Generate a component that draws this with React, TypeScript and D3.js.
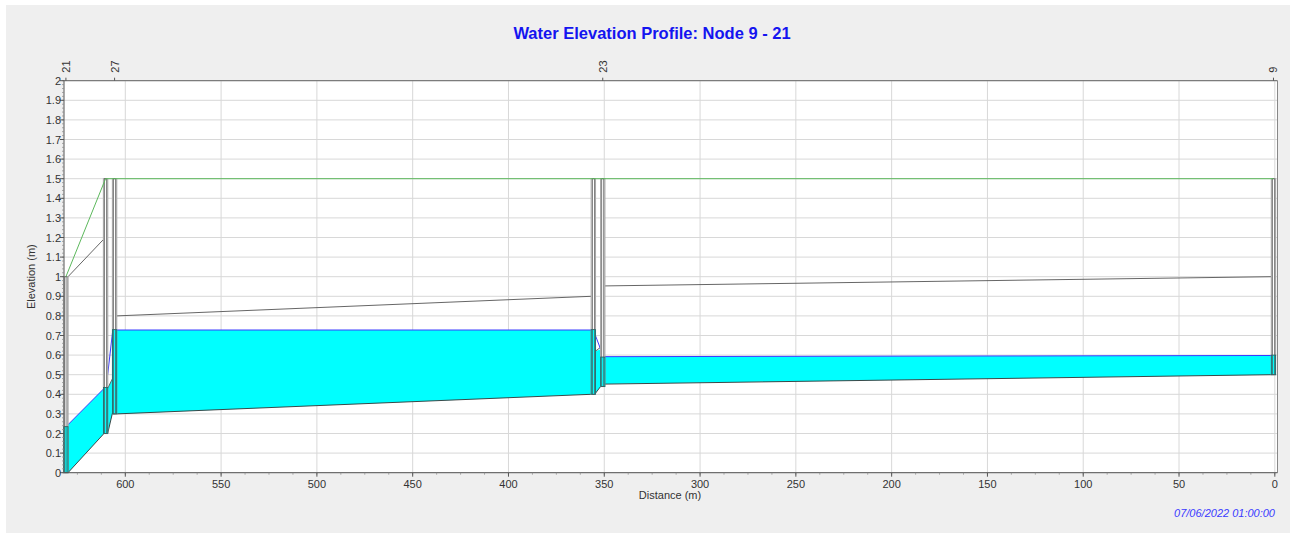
import React from "react";
import * as d3 from "d3";

const title = "Water Elevation Profile: Node 9 - 21";
const timeStamp = "07/06/2022 01:00:00";
const xLabel = "Distance (m)";
const yLabel = "Elevation (m)";

// Nodes (ordered left to right in the chart)
const nodeLabels = ["21", "", "27", "", "23", "9"];
const nodeDistance = [631, 610.3, 605.6, 355.7, 350.8, 0.7];
const nodeInvert = [0.0, 0.2, 0.3, 0.4, 0.44, 0.5];
const nodeRim = [1.0, 1.5, 1.5, 1.5, 1.5, 1.5];
const nodeWater = [0.235, 0.435, 0.73, 0.73, 0.59, 0.6];

// Links between consecutive nodes (start = left end, end = right end)
const linkInvertStart = [0.0, 0.2, 0.3, 0.405, 0.452];
const linkInvertEnd = [0.197, 0.305, 0.4, 0.44, 0.5];
const linkCrownStart = [1.0, 0.43, 0.8, 0.62, 0.953];
const linkCrownEnd = [1.19, 0.48, 0.9, 0.64, 1.0];
const linkWaterStart = [0.245, 0.5, 0.728, 0.7, 0.592];
const linkWaterEnd = [0.427, 0.715, 0.728, 0.63, 0.598];

const xTickValues = [0, 50, 100, 150, 200, 250, 300, 350, 400, 450, 500, 550, 600];
const yTickValues = [0, 0.1, 0.2, 0.3, 0.4, 0.5, 0.6, 0.7, 0.8, 0.9, 1, 1.1, 1.2, 1.3, 1.4, 1.5, 1.6, 1.7, 1.8, 1.9, 2];

const W = 1290;
const H = 534;
const L = 64, R = 1277.5, T = 80.7, B = 472.7;
const FONT = "'Liberation Sans', Arial, sans-serif";

export default function App() {
  const x = d3.scaleLinear().domain([632, -1.4]).range([L, R]);
  const y = d3.scaleLinear().domain([0, 2]).range([B, T]);
  const hw = 2.1; // node half width in px

  const xMinor = d3.range(0, 632, 12.5);
  const yMinor = d3.range(0, 2.0001, 0.02);

  const links = linkInvertStart.map((_, i) => {
    const xl = x(nodeDistance[i]) + hw;
    const xr = x(nodeDistance[i + 1]) - hw;
    const topL = Math.min(linkWaterStart[i], linkCrownStart[i]);
    const topR = Math.min(linkWaterEnd[i], linkCrownEnd[i]);
    const fillPts: [number, number][] = [
      [xl, y(linkInvertStart[i])],
      [xr, y(linkInvertEnd[i])],
      [xr, y(topR)],
      [xl, y(topL)],
    ];
    return { i, xl, xr, fillPts };
  });

  const line = d3.line<[number, number]>();
  const ground: [number, number][] = nodeDistance.map((d, i) => [x(d), y(nodeRim[i])]);

  return (
    <div style={{ position: "absolute", left: 0, top: 0, width: W, height: H, background: "#fff" }}>
      <svg width={W} height={H} style={{ display: "block", fontFamily: FONT }}>
        <rect x={6} y={5} width={W - 6} height={H - 6} fill="#efefef" />
        <text x={652} y={39} textAnchor="middle" fontSize={16.5} fontWeight="bold" fill="#1414f0">
          {title}
        </text>
        <rect x={L} y={T} width={R - L} height={B - T} fill="#fff" />
        {/* grid */}
        {yTickValues.map((v) => (
          <line key={"gy" + v} x1={L} x2={R} y1={y(v)} y2={y(v)} stroke="#d8d8d8" strokeWidth={1} />
        ))}
        {xTickValues.map((v) => (
          <line key={"gx" + v} x1={x(v)} x2={x(v)} y1={T} y2={B} stroke="#d8d8d8" strokeWidth={1} />
        ))}
        {/* link water fill */}
        {links.map((lk) => (
          <path key={"lf" + lk.i} d={line(lk.fillPts) + "Z"} fill="#00ffff" stroke="none" />
        ))}
        {/* link lines */}
        {links.map((lk) => (
          <g key={"ll" + lk.i}>
            <line x1={lk.xl} x2={lk.xr} y1={y(linkInvertStart[lk.i])} y2={y(linkInvertEnd[lk.i])} stroke="#333" strokeWidth={0.9} />
            <line x1={lk.xl} x2={lk.xr} y1={y(linkCrownStart[lk.i])} y2={y(linkCrownEnd[lk.i])} stroke="#555" strokeWidth={0.9} />
            <line x1={lk.xl} x2={lk.xr} y1={y(linkWaterStart[lk.i])} y2={y(linkWaterEnd[lk.i])} stroke="#3a3aff" strokeWidth={1} />
          </g>
        ))}
        {/* nodes */}
        {nodeDistance.map((d, i) => {
          const cx = x(d);
          return (
            <g key={"n" + i}>
              <rect x={cx - hw} y={y(nodeRim[i])} width={hw * 2} height={y(nodeInvert[i]) - y(nodeRim[i])} fill="#fff" stroke="#a8a8a8" strokeWidth={1.2} />
              <rect x={cx - hw} y={y(nodeWater[i])} width={hw * 2} height={y(nodeInvert[i]) - y(nodeWater[i])} fill="#00ffff" stroke="#1d6a6a" strokeWidth={0.9} />
              <rect x={cx - hw + 1.1} y={y(nodeRim[i])} width={hw * 2 - 2.2} height={y(nodeInvert[i]) - y(nodeRim[i])} fill="none" stroke="#555" strokeWidth={0.7} />
            </g>
          );
        })}
        {/* ground line */}
        <path d={line(ground) || ""} fill="none" stroke="#5cb85c" strokeWidth={1} />
        {/* frame */}
        <line x1={L} x2={R} y1={T} y2={T} stroke="#666" strokeWidth={1} />
        <line x1={R} x2={R} y1={T} y2={B} stroke="#888" strokeWidth={1} />
        <line x1={L} x2={L} y1={T} y2={B} stroke="#555" strokeWidth={1} />
        <line x1={L} x2={R} y1={B} y2={B} stroke="#555" strokeWidth={1} />
        {/* y ticks */}
        {yMinor.map((v, k) => (
          <line key={"ym" + k} x1={L - 2} x2={L} y1={y(v)} y2={y(v)} stroke="#888" strokeWidth={0.7} />
        ))}
        {yTickValues.map((v) => (
          <g key={"yt" + v}>
            <line x1={L - 4} x2={L} y1={y(v)} y2={y(v)} stroke="#555" strokeWidth={1} />
            <text x={L - 3} y={y(v) + 4} textAnchor="end" fontSize={11} fill="#333">
              {String(v)}
            </text>
          </g>
        ))}
        {/* x ticks */}
        {xMinor.map((v, k) => (
          <line key={"xm" + k} x1={x(v)} x2={x(v)} y1={B} y2={B + 2} stroke="#888" strokeWidth={0.7} />
        ))}
        {xTickValues.map((v) => (
          <g key={"xt" + v}>
            <line x1={x(v)} x2={x(v)} y1={B} y2={B + 4} stroke="#555" strokeWidth={1} />
            <text x={x(v)} y={B + 15} textAnchor="middle" fontSize={11} fill="#333">
              {String(v)}
            </text>
          </g>
        ))}
        {/* top node labels */}
        {nodeDistance.map((d, i) =>
          nodeLabels[i] ? (
            <g key={"tl" + i}>
              <line x1={x(d)} x2={x(d)} y1={T - 3} y2={T} stroke="#555" strokeWidth={1} />
              <text transform={`translate(${x(d) + 4},${T - 8}) rotate(-90)`} fontSize={11} fill="#333">
                {nodeLabels[i]}
              </text>
            </g>
          ) : null
        )}
        <text x={670} y={499} textAnchor="middle" fontSize={11} fill="#333">
          {xLabel}
        </text>
        <text transform={`translate(${35},${(T + B) / 2}) rotate(-90)`} textAnchor="middle" fontSize={11} fill="#333">
          {yLabel}
        </text>
        <text x={1275} y={517} textAnchor="end" fontSize={11} fontStyle="italic" fill="#3a3aff">
          {timeStamp}
        </text>
      </svg>
    </div>
  );
}
